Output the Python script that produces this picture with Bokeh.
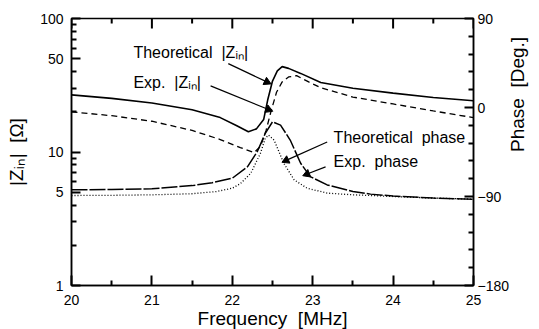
import math
from bokeh.plotting import figure
from bokeh.models import (Range1d, LinearAxis, FixedTicker, Label,
                          BasicTickFormatter, LinearScale)
from bokeh.embed import file_html
from bokeh.resources import INLINE

# ---- data ----
freq_th_z = [20.0, 20.5, 21.0, 21.5, 21.85, 22.05, 22.2, 22.3, 22.39, 22.44,
             22.5, 22.56, 22.62, 22.7, 22.85, 23.1, 23.5, 24.0, 24.5, 25.0]
z_th = [26.8, 25.2, 23.3, 20.7, 18.1, 15.8, 14.2, 14.9, 17.5, 24.5,
        34.0, 40.5, 43.6, 42.3, 38.8, 33.2, 30.0, 27.6, 25.6, 24.2]

freq_ex_z = [20.0, 20.5, 21.0, 21.5, 21.85, 22.1, 22.27, 22.35, 22.42, 22.48,
             22.55, 22.62, 22.7, 22.8, 22.95, 23.1, 23.5, 24.0, 24.5, 25.0]
z_ex = [20.0, 18.7, 17.0, 14.5, 12.4, 10.8, 9.9, 11.0, 14.5, 20.0,
        28.0, 33.5, 36.5, 37.3, 33.5, 30.3, 25.8, 22.9, 20.3, 18.1]

freq_th_ph = [20.0, 20.5, 21.0, 21.5, 21.8, 22.0, 22.1, 22.23, 22.35, 22.41,
              22.45, 22.52, 22.64, 22.77, 22.93, 23.18, 23.5, 23.72, 24.0, 24.5, 25.0]
ph_th = [-89.0, -88.8, -88.3, -87.2, -85.0, -81.6, -77.0, -66.5, -46.3, -31.2,
         -27.9, -32.9, -56.4, -73.2, -81.6, -86.6, -88.3, -89.0, -90.0, -91.6, -92.7]

freq_ex_ph = [20.0, 20.5, 21.0, 21.5, 21.75, 22.0, 22.19, 22.31, 22.41, 22.5,
              22.6, 22.72, 22.85, 22.97, 23.18, 23.5, 23.72, 24.0, 24.5, 25.0]
ph_ex = [-83.3, -83.0, -82.2, -79.0, -76.0, -71.5, -59.8, -44.7, -26.2, -14.5,
         -17.8, -32.9, -56.4, -69.9, -78.3, -85.0, -87.6, -89.5, -91.6, -92.7]

x_ticks = [20, 21, 22, 23, 24, 25]
x_minor = [20.5, 21.5, 22.5, 23.5, 24.5]
z_ticks = [1, 5, 10, 50, 100]
z_minor = [2, 3, 4, 6, 7, 8, 9, 20, 30, 40, 60, 70, 80, 90]
ph_ticks = [-180, -90, 0, 90]
ph_minor = [-162, -144, -126, -108, -72, -54, -36, -18, 18, 36, 54, 72]

X_MIN, X_MAX = 20, 25
Z_MIN, Z_MAX = 1, 100
PH_MIN, PH_MAX = -180, 90

FRAME_W, FRAME_H = 402, 267
MAJOR_PX, MINOR_PX = 10, 5
TICK_W = 2

FONT = "Liberation Sans"
NB = "\u00a0"

p = figure(frame_width=FRAME_W, frame_height=FRAME_H,
           x_range=Range1d(X_MIN, X_MAX), y_range=Range1d(Z_MIN, Z_MAX),
           y_axis_type="log", output_backend="svg", toolbar_location=None,
           min_border_left=71, min_border_right=66, min_border_top=18,
           min_border_bottom=44)
p.extra_y_ranges = {"phase": Range1d(PH_MIN, PH_MAX)}
p.extra_y_scales = {"phase": LinearScale()}
p.xgrid.visible = False
p.ygrid.visible = False
p.outline_line_color = "black"
p.outline_line_width = 1.5

# curves
p.line(freq_th_z, z_th, line_color="black", line_width=1.6)
p.line(freq_ex_z, z_ex, line_color="black", line_width=1.3, line_dash="6 4")
p.line(freq_th_ph, ph_th, line_color="black", line_width=1.3, line_dash="1 2",
       y_range_name="phase")
p.line(freq_ex_ph, ph_ex, line_color="black", line_width=1.5, line_dash="16 2",
       y_range_name="phase")

# pixel <-> data conversions of the frame
dx_per_px = (X_MAX - X_MIN) / FRAME_W
dlogz_per_px = (math.log10(Z_MAX) - math.log10(Z_MIN)) / FRAME_H
dph_per_px = (PH_MAX - PH_MIN) / FRAME_H

# inward tick marks on the top edge
def top_ticks(vals, px):
    f = 10 ** (px * dlogz_per_px)
    p.multi_line([[v, v] for v in vals], [[Z_MAX, Z_MAX / f] for v in vals],
                 line_color="black", line_width=TICK_W)

top_ticks(x_ticks, MAJOR_PX)
top_ticks(x_minor, MINOR_PX)

def style_axis(ax, major_in, minor_in):
    ax.axis_line_color = "black"
    ax.axis_line_width = 1.5
    ax.major_tick_in = major_in
    ax.major_tick_out = 0
    ax.minor_tick_in = minor_in
    ax.minor_tick_out = 0
    ax.major_tick_line_color = "black"
    ax.minor_tick_line_color = "black"
    ax.major_tick_line_width = TICK_W
    ax.minor_tick_line_width = TICK_W
    ax.major_label_text_font = FONT
    ax.major_label_text_font_size = "14px"
    ax.major_label_text_color = "black"
    ax.axis_label_text_font = FONT
    ax.axis_label_text_font_size = "19px"
    ax.axis_label_text_font_style = "normal"
    ax.axis_label_text_color = "black"

xa = p.xaxis[0]
xa.ticker = FixedTicker(ticks=x_ticks, minor_ticks=x_minor)
xa.axis_label = "Frequency" + NB + NB + "[MHz]"
style_axis(xa, MAJOR_PX, MINOR_PX)
xa.major_label_standoff = 9
xa.axis_label_standoff = 0

ya = p.yaxis[0]
ya.ticker = FixedTicker(ticks=z_ticks, minor_ticks=z_minor)
ya.formatter = BasicTickFormatter()
ya.axis_label = "|Z\u1d62\u2099|" + NB + NB + "[\u03a9]"
style_axis(ya, MAJOR_PX - 1, MINOR_PX)
ya.major_label_standoff = 8
ya.axis_label_standoff = 10

ra = LinearAxis(y_range_name="phase",
                ticker=FixedTicker(ticks=ph_ticks, minor_ticks=ph_minor),
                axis_label="Phase" + NB + NB + "[Deg.]")
style_axis(ra, MAJOR_PX - 1, MINOR_PX)
ra.major_label_overrides = {-180: "\u2212180", -90: "\u221290", 0: "0", 90: "90"}
ra.major_label_standoff = 4
ra.axis_label_standoff = 5
ra.axis_label_orientation = math.pi / 2
p.add_layout(ra, "right")

# annotations: text labels, arrows drawn as segment + triangle head glyphs
def add_label(x, y, text, yr="default"):
    p.add_layout(Label(x=x, y=y, text=text, text_font=FONT, text_font_size="16px",
                       text_baseline="middle", text_color="black", y_range_name=yr))

def add_arrow(x0, y0, x1, y1, yr="default"):
    p.segment(x0=[x0], y0=[y0], x1=[x1], y1=[y1], line_color="black",
              line_width=1.2, y_range_name=yr)
    sx = (x1 - x0) / dx_per_px
    if yr == "phase":
        sy = (y1 - y0) / dph_per_px
    else:
        sy = (math.log10(y1) - math.log10(y0)) / dlogz_per_px
    ang = math.atan2(sy, sx) - math.pi / 2
    p.scatter([x1], [y1], marker="triangle", size=8, angle=ang,
              fill_color="black", line_color="black", y_range_name=yr)

add_label(20.77, 55.5, "Theoretical" + NB + NB + "|Z\u1d62\u2099|")
add_arrow(21.95, 45.9, 22.43, 33.5)
add_label(20.77, 33.0, "Exp." + NB + NB + "|Z\u1d62\u2099|")
add_arrow(21.73, 31.3, 22.45, 20.8)
add_label(23.26, -29.9, "Theoretical" + NB + NB + "phase", "phase")
add_arrow(23.18, -34.9, 22.67, -53.5, "phase")
add_label(23.26, -55.0, "Exp." + NB + NB + "phase", "phase")
add_arrow(23.16, -60.1, 22.93, -67.3, "phase")

open("out.html", "w").write(file_html(p, INLINE))
